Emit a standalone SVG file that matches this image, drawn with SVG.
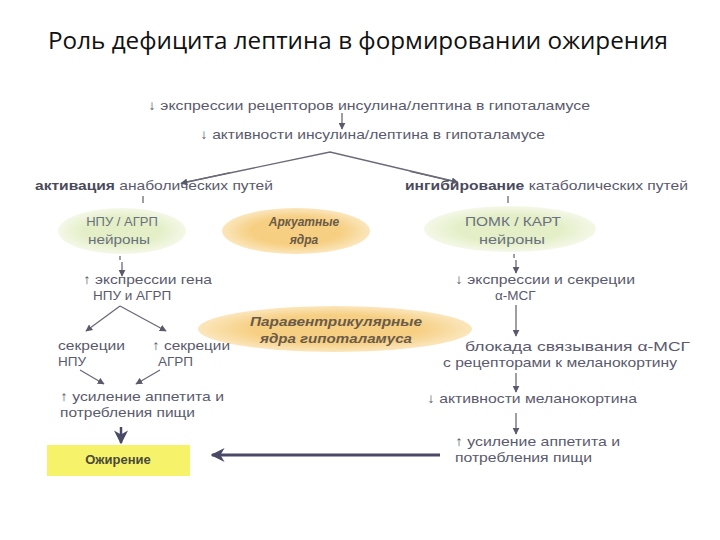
<svg xmlns="http://www.w3.org/2000/svg" width="720" height="540" viewBox="0 0 720 540">
<defs>
<style>
.t{font-family:"Liberation Sans",Arial,sans-serif;font-size:13.5px;fill:#5a5a6c}
.b{font-weight:bold;fill:#4a4a5c}
.e{font-family:"Liberation Sans",Arial,sans-serif;font-size:13px;font-weight:bold;font-style:italic;fill:#6a5a48;text-anchor:middle}
.n{font-family:"Liberation Sans",Arial,sans-serif;font-size:13px;fill:#6a7080;text-anchor:middle}
.ln{stroke:#6a6a78;stroke-width:1.3;fill:none}
.ar{stroke:#6a6a78;stroke-width:1.3;fill:none;marker-end:url(#ah)}
.green{fill:url(#gg)}
.orange{fill:url(#go)}
</style>
<marker id="ah" viewBox="0 0 10 10" refX="9" refY="5" markerWidth="7" markerHeight="7" orient="auto" markerUnits="userSpaceOnUse">
<path d="M0,0 L10,5 L0,10 z" fill="#5a5a6a"/>
</marker>
<marker id="ahb" viewBox="0 0 10 10" refX="9" refY="5" markerWidth="14" markerHeight="14" orient="auto" markerUnits="userSpaceOnUse">
<path d="M0,0 L10,5 L0,10 L3,5 z" fill="#4a4a66"/>
</marker>
<radialGradient id="gg"><stop offset="0.6" stop-color="#e4efc8"/><stop offset="1" stop-color="#f4f8e8"/></radialGradient>
<radialGradient id="go"><stop offset="0.6" stop-color="#f6cf82"/><stop offset="1" stop-color="#fbe6bc"/></radialGradient>
</defs>
<rect width="720" height="540" fill="#ffffff"/>
<text x="48" y="49" textLength="620" lengthAdjust="spacingAndGlyphs" font-family="'Open Sans','Noto Sans',sans-serif" font-size="23" fill="#111">Роль дефицита лептина в формировании ожирения</text>

<g id="connectors">
<line class="ar" x1="342" y1="113" x2="342" y2="129"/>
<polyline class="ln" points="182,183 330,152 457,182"/>
<line class="ar" x1="230" y1="172.7" x2="181" y2="183.3"/>
<line class="ar" x1="410" y1="171.3" x2="458" y2="182.3"/>
<line class="ln" x1="143" y1="196" x2="143" y2="203"/>
<line class="ln" x1="508" y1="196" x2="508" y2="203"/>
<line class="ln" x1="120" y1="256" x2="120" y2="260"/>
<line class="ar" x1="122" y1="262" x2="122" y2="276"/>
<line class="ln" x1="514" y1="254" x2="514" y2="258"/>
<line class="ar" x1="516" y1="260" x2="516" y2="273"/>
<line class="ar" x1="120" y1="306" x2="86" y2="331"/>
<line class="ar" x1="120" y1="306" x2="166" y2="331"/>
<line class="ar" x1="80" y1="370" x2="104" y2="384"/>
<line class="ar" x1="160" y1="370" x2="136" y2="384"/>
<line x1="121" y1="427" x2="121" y2="443" stroke="#4a4a66" stroke-width="2.5" marker-end="url(#ahb)"/>
<line x1="440" y1="455" x2="212" y2="455" stroke="#4a4a66" stroke-width="3" marker-end="url(#ahb)"/>
<line class="ar" x1="516" y1="305" x2="516" y2="336"/>
<line class="ar" x1="516" y1="373" x2="516" y2="392"/>
<line class="ar" x1="516" y1="413" x2="516" y2="434"/>
</g>

<g id="top1"><text class="t" x="148" y="110" textLength="442" lengthAdjust="spacingAndGlyphs">↓ экспрессии рецепторов  инсулина/лептина в гипоталамусе</text></g>
<g id="top2"><text class="t" x="200" y="139" textLength="345" lengthAdjust="spacingAndGlyphs">↓ активности инсулина/лептина в гипоталамусе</text></g>
<g id="anab"><text class="t" x="35" y="190" textLength="238" lengthAdjust="spacingAndGlyphs"><tspan class="b">активация</tspan> анаболических путей</text></g>
<g id="katab"><text class="t" x="405" y="190" textLength="283" lengthAdjust="spacingAndGlyphs"><tspan class="b">ингибирование</tspan> катаболических путей</text></g>

<g id="npu"><ellipse class="green" cx="122" cy="231" rx="64" ry="23"/>
<text class="n" x="122" y="226">НПУ / АГРП</text><text class="n" x="119" y="244" textLength="62" lengthAdjust="spacingAndGlyphs">нейроны</text></g>
<g id="arc"><ellipse class="orange" cx="296" cy="231" rx="74" ry="23"/>
<text class="e" x="304" y="226" style="font-size:12px">Аркуатные</text><text class="e" x="304" y="244" style="font-size:12px">ядра</text></g>
<g id="pomk"><ellipse class="green" cx="510" cy="229" rx="86" ry="23"/>
<text class="n" x="513" y="226" textLength="96" lengthAdjust="spacingAndGlyphs">ПОМК / КАРТ</text><text class="n" x="512" y="244" textLength="66" lengthAdjust="spacingAndGlyphs">нейроны</text></g>
<g id="pvn"><ellipse class="orange" cx="335" cy="329" rx="137" ry="23"/>
<text class="e" x="336" y="326" textLength="172" lengthAdjust="spacingAndGlyphs">Паравентрикулярные</text><text class="e" x="336" y="343" textLength="152" lengthAdjust="spacingAndGlyphs">ядра гипоталамуса</text></g>

<g id="expr"><text class="t" x="83" y="284" textLength="129" lengthAdjust="spacingAndGlyphs">↑ экспрессии гена</text><text class="t" x="93" y="300">НПУ и АГРП</text></g>
<g id="secnpu"><text class="t" x="58" y="350" textLength="67" lengthAdjust="spacingAndGlyphs">секреции</text><text class="t" x="58" y="366">НПУ</text></g>
<g id="secagrp"><text class="t" x="152" y="350" textLength="78" lengthAdjust="spacingAndGlyphs">↑ секреции</text><text class="t" x="158" y="366">АГРП</text></g>
<g id="appl"><text class="t" x="60" y="401" textLength="164" lengthAdjust="spacingAndGlyphs">↑ усиление аппетита и</text><text class="t" x="60" y="417" textLength="135" lengthAdjust="spacingAndGlyphs">потребления пищи</text></g>
<g id="obes"><rect x="47" y="445" width="143" height="31" fill="#f6f36a"/>
<text x="118" y="464" text-anchor="middle" font-family="'Liberation Sans',Arial,sans-serif" font-size="13" font-weight="bold" fill="#4a4a3a">Ожирение</text></g>

<g id="msg"><text class="t" x="455" y="284" textLength="180" lengthAdjust="spacingAndGlyphs">↓ экспрессии и секреции</text><text class="t" x="495" y="300">α-МСГ</text></g>
<g id="block"><text class="t" x="465" y="351" textLength="225" lengthAdjust="spacingAndGlyphs">блокада связывания  α-МСГ</text><text class="t" x="443" y="367" textLength="234" lengthAdjust="spacingAndGlyphs">с рецепторами к меланокортину</text></g>
<g id="mel"><text class="t" x="427" y="403" textLength="210" lengthAdjust="spacingAndGlyphs">↓ активности меланокортина</text></g>
<g id="appr"><text class="t" x="455" y="446" textLength="165" lengthAdjust="spacingAndGlyphs">↑ усиление аппетита и</text><text class="t" x="455" y="462" textLength="137" lengthAdjust="spacingAndGlyphs">потребления пищи</text></g>
</svg>
